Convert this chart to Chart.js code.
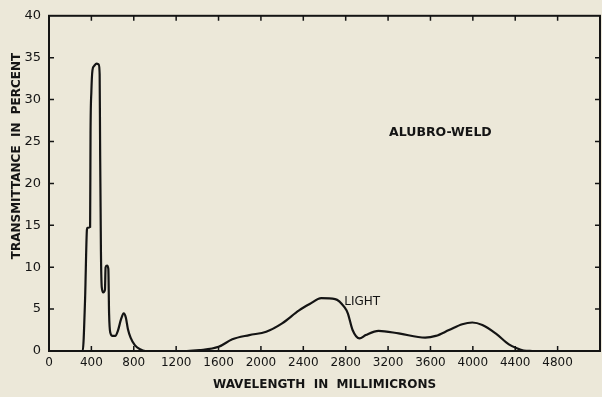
<!DOCTYPE html>
<html>
<head>
<meta charset="utf-8">
<script src="https://cdn.jsdelivr.net/npm/chart.js@4.4.1/dist/chart.umd.min.js"></script>
<style>
  html, body { margin: 0; padding: 0; background: #ece8d9; }
  canvas { display: block; }
</style>
</head>
<body>
<canvas id="grafico" width="602" height="397"></canvas>
<script>
// wavelength (millimicrons) and transmittance (percent)
var comprimentos = [300, 318, 340, 358, 362, 388, 392, 400, 410, 425, 450, 470, 478, 482, 490, 498, 512, 528, 534, 548, 560, 567, 578, 600, 625, 650, 680, 705, 725, 745, 770, 810, 860, 910,
  1300, 1420, 1600, 1730, 1890, 2050, 2200, 2360, 2460, 2570, 2700, 2790, 2820, 2865, 2930, 2990, 3110, 3300, 3550, 3650, 3775, 3900, 3995, 4090, 4215, 4340, 4410, 4480, 4560];
var transmitancia = [0, 0, 6, 14.5, 14.7, 14.8, 26, 31, 33.5, 34.0, 34.3, 34.2, 33, 25, 12, 7.6, 7.0, 7.3, 10.0, 10.2, 9.8, 4.5, 2.2, 1.8, 1.8, 2.4, 3.8, 4.5, 4.0, 2.6, 1.6, 0.7, 0.2, 0,
  0, 0.1, 0.5, 1.4, 1.9, 2.3, 3.3, 4.85, 5.6, 6.3, 6.2, 5.2, 4.5, 2.5, 1.5, 1.9, 2.4, 2.1, 1.6, 1.8, 2.5, 3.2, 3.4, 3.1, 2.1, 0.8, 0.35, 0.05, 0];

var ticksX = [0, 400, 800, 1200, 1600, 2000, 2400, 2800, 3200, 3600, 4000, 4400, 4800];
var ticksY = [0, 5, 10, 15, 20, 25, 30, 35, 40];

var pontos = comprimentos.map(function (c, i) { return {x: c, y: transmitancia[i]}; });

var tinta = '#141414';

// frame round the plot, small inward tick marks on all four sides, and the lettering
var moldura = {
  id: 'moldura',
  afterDatasetsDraw: function (chart) {
    var ctx = chart.ctx, a = chart.chartArea;
    var sx = chart.scales.x, sy = chart.scales.y;
    ctx.save();
    ctx.strokeStyle = tinta;
    ctx.lineWidth = 2;
    ctx.strokeRect(a.left, a.top, a.right - a.left, a.bottom - a.top);
    ctx.lineWidth = 1.5;
    ctx.beginPath();
    for (var v = 400; v < 5200; v += 400) {
      var px = sx.getPixelForValue(v);
      ctx.moveTo(px, a.bottom); ctx.lineTo(px, a.bottom - 5);
      ctx.moveTo(px, a.top); ctx.lineTo(px, a.top + 5);
    }
    for (var w = 5; w < 40; w += 5) {
      var py = sy.getPixelForValue(w);
      ctx.moveTo(a.left, py); ctx.lineTo(a.left + 5, py);
      ctx.moveTo(a.right, py); ctx.lineTo(a.right - 5, py);
    }
    ctx.stroke();

    ctx.fillStyle = tinta;
    ctx.textBaseline = 'middle';
    ctx.textAlign = 'center';
    ctx.font = 'bold 12.5px "DejaVu Sans"';
    ctx.fillText('ALUBRO-WELD', sx.getPixelForValue(3694), sy.getPixelForValue(26));
    ctx.textAlign = 'left';
    ctx.font = '12px "DejaVu Sans"';
    ctx.fillText('LIGHT', sx.getPixelForValue(2786), sy.getPixelForValue(5.9));

    // y axis title, sitting a little above the middle as in the original
    ctx.translate(17, 156);
    ctx.rotate(-Math.PI / 2);
    ctx.textAlign = 'center';
    ctx.font = 'bold 12px "DejaVu Sans"';
    ctx.fillText('TRANSMITTANCE  IN  PERCENT', 0, 0);
    ctx.restore();
  }
};

var ctx = document.getElementById('grafico').getContext('2d');
var chart = new Chart(ctx, {
  type: 'line',
  data: {
    datasets: [{
      data: pontos,
      borderColor: tinta,
      borderWidth: 2.2,
      pointRadius: 0,
      fill: false,
      cubicInterpolationMode: 'monotone'
    }]
  },
  options: {
    responsive: false,
    animation: false,
    layout: { padding: { top: 13, right: 2, left: 0, bottom: 0 } },
    plugins: { legend: { display: false }, tooltip: { enabled: false } },
    scales: {
      x: {
        type: 'linear',
        min: 0,
        max: 5200,
        afterBuildTicks: function (s) { s.ticks = ticksX.map(function (v) { return {value: v}; }); },
        afterFit: function (s) { s.height = 46; },
        grid: { display: false, drawTicks: false },
        border: { display: false },
        ticks: {
          color: tinta,
          font: { family: 'DejaVu Sans', size: 12 },
          padding: 5,
          maxRotation: 0,
          autoSkip: false,
          callback: function (v) { return String(v); }
        },
        title: {
          display: true,
          text: 'WAVELENGTH  IN  MILLIMICRONS',
          color: tinta,
          font: { family: 'DejaVu Sans', size: 12, weight: 'bold' },
          padding: { top: 0, bottom: 5 }
        }
      },
      y: {
        min: 0,
        max: 40,
        afterBuildTicks: function (s) { s.ticks = ticksY.map(function (v) { return {value: v}; }); },
        afterFit: function (s) { s.width = 49; },
        grid: { display: false, drawTicks: false },
        border: { display: false },
        ticks: {
          color: tinta,
          font: { family: 'DejaVu Sans', size: 13 },
          padding: 8,
          callback: function (v) { return String(v); }
        },
        title: { display: false }
      }
    }
  },
  plugins: [moldura]
});
</script>
</body>
</html>
